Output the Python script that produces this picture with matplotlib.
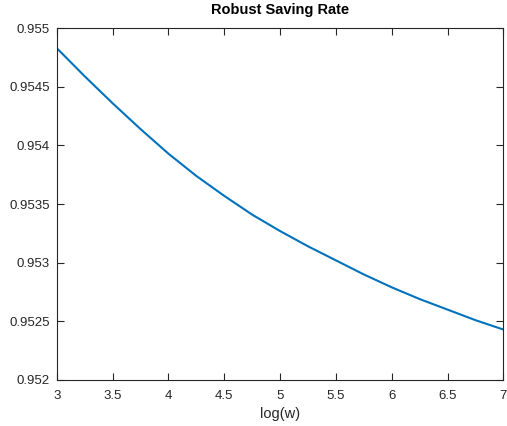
import matplotlib.pyplot as plt
import matplotlib.ticker as mticker

# values
log_w = [3.0, 3.25, 3.5, 3.75, 4.0, 4.25, 4.5, 4.75, 5.0,
         5.25, 5.5, 5.75, 6.0, 6.25, 6.5, 6.75, 7.0]
saving_rate = [0.95483, 0.95459, 0.95436, 0.95414, 0.95393, 0.95374, 0.95357, 0.95341, 0.95327,
               0.95314, 0.95302, 0.95290, 0.95279, 0.95269, 0.95260, 0.95251, 0.95243]

x_ticks = [3, 3.5, 4, 4.5, 5, 5.5, 6, 6.5, 7]
y_ticks = [0.952, 0.9525, 0.953, 0.9535, 0.954, 0.9545, 0.955]

plt.rcParams['font.family'] = ['Liberation Sans', 'DejaVu Sans']
axis_col = '#262626'

fig = plt.figure(figsize=(5.07, 4.26), dpi=100)
ax = fig.add_axes([0.1118, 0.108, 0.8811, 0.826])

ax.plot(log_w, saving_rate, color='#0072BD', linewidth=1.5)

ax.set_xlim(3, 7)
ax.set_ylim(0.952, 0.955)
ax.set_xticks(x_ticks)
ax.set_yticks(y_ticks)
ax.xaxis.set_major_formatter(mticker.FormatStrFormatter('%g'))
ax.yaxis.set_major_formatter(mticker.FormatStrFormatter('%g'))

ax.tick_params(direction='in', length=5, width=0.8, top=True, right=True,
               colors=axis_col, labelsize=9.5)
ax.tick_params(axis='x', pad=7)
ax.tick_params(axis='y', pad=5)
for sp in ax.spines.values():
    sp.set_color(axis_col)
    sp.set_linewidth(0.8)

ax.set_title('Robust Saving Rate', fontsize=10.5, fontweight='bold', color='black', pad=10)
ax.set_xlabel('log(w)', fontsize=10.5, color=axis_col, labelpad=4)

fig.savefig('out.png', dpi=100)
